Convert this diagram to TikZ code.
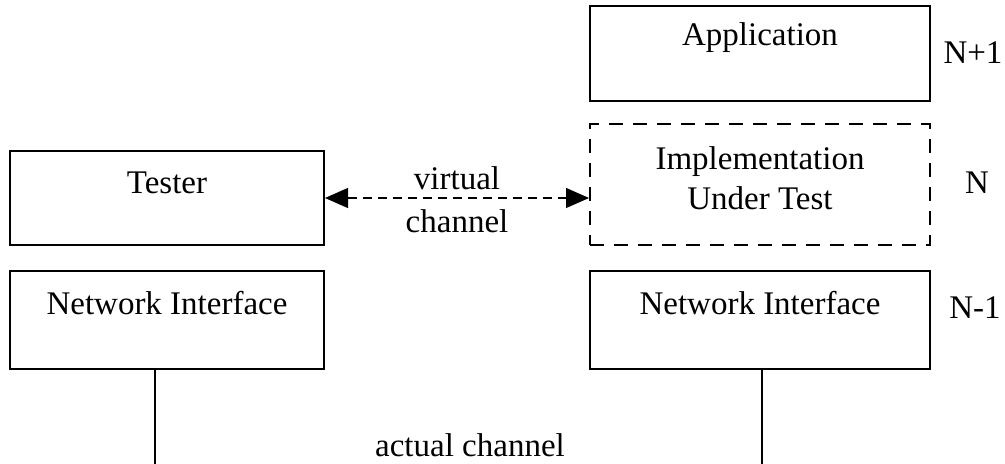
\documentclass[tikz,border=0pt]{standalone}
\usepackage{fontspec}
\setmainfont{Liberation Serif}
\usetikzlibrary{arrows.meta}
\begin{document}
\begin{tikzpicture}[x=0.5pt,y=-0.5pt,
  box/.style={draw,line width=1pt,minimum width=#1,inner sep=0pt},
  lbl/.style={font=\fontsize{16.5}{20}\selectfont,inner sep=0pt,align=center},
  vline/.style={line width=0.6pt},
  vchan/.style={line width=0.6pt,dash pattern=on 4.5pt off 3pt,{Triangle[length=11.5pt,width=10pt]}-{Triangle[length=11.5pt,width=10pt]}}]
\useasboundingbox (0,0) rectangle (1005,464);
\fill[white] (0,0) rectangle (1005,464);
% right stack
\node[box=170pt,minimum height=47.5pt] (app) at (760,53.5) {};
\node[box=170pt,minimum height=60.5pt,dash pattern=on 7pt off 5pt] (iut) at (760,184.5) {};
\node[box=170pt,minimum height=49pt] (niR) at (760,320) {};
% left stack
\node[box=157pt,minimum height=47pt] (tester) at (167,198) {};
\node[box=157pt,minimum height=49pt] (niL) at (167,320) {};
% texts
\node[lbl] (tApp) at (760,38) {Application};
\node[lbl] (tIut) at (760,178) {Implementation\\Under Test};
\node[lbl] (tNiR) at (760,303) {Network Interface};
\node[lbl] (tTester) at (167,183) {Tester};
\node[lbl] (tNiL) at (167,303) {Network Interface};
% layer labels
\node[lbl] (lN1) at (973,53) {N+1};
\node[lbl] (lN) at (977,183) {N};
\node[lbl] (lNm1) at (975,308) {N-1};
% virtual channel
\draw[vchan] (tester.east) -- (tester.east -| iut.west);
\node[lbl] (tVirt) at (457,178) {virtual};
\node[lbl] (tChan) at (457,221) {channel};
% actual channel
\coordinate (endL) at (155,464);
\coordinate (endR) at (762,464);
\draw[vline] (niL.south -| endL) -- (endL);
\draw[vline] (niR.south -| endR) -- (endR);
\node[lbl] (tAct) at (470,445) {actual channel};
\end{tikzpicture}
\end{document}
